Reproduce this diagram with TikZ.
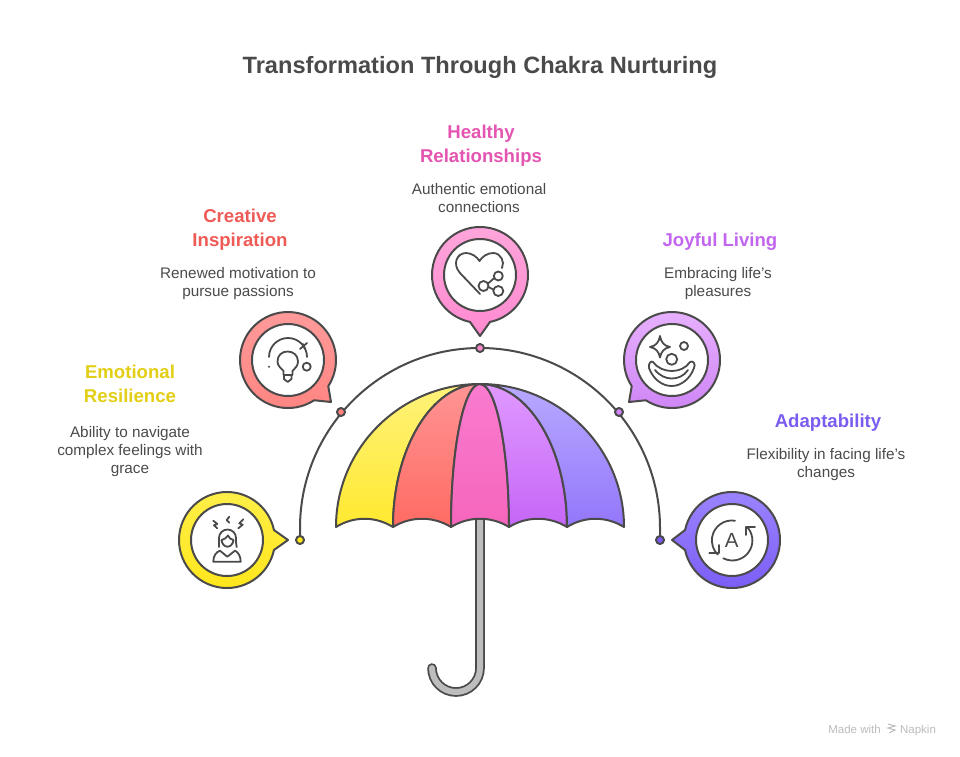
\documentclass[tikz,border=0pt]{standalone}
\usepackage{fontspec}
\setsansfont{Liberation Sans}
\usepackage{tikz}
\usetikzlibrary{positioning}
\usepackage{xcolor}

\definecolor{inkgray}{HTML}{4A4A4A}
\definecolor{handlegray}{HTML}{BDBDBD}
\definecolor{footgray}{HTML}{BBBBBB}
\definecolor{resilhead}{HTML}{E2CE14}
\definecolor{creathead}{HTML}{EE5A55}
\definecolor{relathead}{HTML}{E355B0}
\definecolor{joyhead}{HTML}{C266F0}
\definecolor{adapthead}{HTML}{7B5CF0}
\definecolor{yellowtop}{HTML}{FFF27A}
\definecolor{yellowbot}{HTML}{FFE930}
\definecolor{redtop}{HTML}{FF9494}
\definecolor{redbot}{HTML}{FF6B63}
\definecolor{pinktop}{HTML}{F97BD0}
\definecolor{pinkbot}{HTML}{F566BB}
\definecolor{purpletop}{HTML}{E099FF}
\definecolor{purplebot}{HTML}{C566F7}
\definecolor{bluetop}{HTML}{B8A9FF}
\definecolor{bluebot}{HTML}{9376FB}
\definecolor{ringyellowtop}{HTML}{FFEF4A}
\definecolor{ringyellowbot}{HTML}{FFE61A}
\definecolor{ringredtop}{HTML}{FF9C9C}
\definecolor{ringredbot}{HTML}{FF8480}
\definecolor{ringpinktop}{HTML}{FFA6DC}
\definecolor{ringpinkbot}{HTML}{FF8AD0}
\definecolor{ringpurpletop}{HTML}{E8B3FF}
\definecolor{ringpurplebot}{HTML}{CF85F5}
\definecolor{ringbluetop}{HTML}{9C85FF}
\definecolor{ringbluebot}{HTML}{7A5CF5}

\tikzset{
    outline/.style={draw=inkgray, line width=2pt, line join=round},
    ringhole/.style={outline, fill=white, circle, minimum size=72pt, inner sep=0pt},
    spot/.style={outline, circle, minimum size=8pt, inner sep=0pt},
    icon/.style={draw=inkgray, line width=1.8pt, line cap=round, line join=round},
    headline/.style={align=center, font=\fontsize{18.6}{24}\selectfont\bfseries},
    bodytext/.style={align=center, text=inkgray, font=\fontsize{15.3}{18}\selectfont},
    footer/.style={text=footgray, anchor=base, font=\fontsize{11.5}{13}\selectfont},
}

\begin{document}
\begin{tikzpicture}[x=1pt, y=-1pt]\sffamily

        \useasboundingbox (0,0) rectangle (960,756);

        \node[text=inkgray, font=\fontsize{23.6}{28}\selectfont\bfseries] (title) at (480,67) {Transformation Through Chakra Nurturing};

        % handle
        \draw[double=handlegray, double distance=6pt, draw=inkgray, line width=1.8pt, line cap=round]
            (480,512) -- (480,668) arc[start angle=0, end angle=180, radius=24] -- (432,668);

        % canopy
        \draw[outline, top color=yellowtop, bottom color=yellowbot]
            (336,527) arc[start angle=180, end angle=270, x radius=144, y radius=143]
            arc[start angle=270, end angle=180, x radius=87, y radius=143]
            .. controls (375,516) and (354,516) .. (336,527) -- cycle;
        \draw[outline, top color=redtop, bottom color=redbot]
            (393,527) arc[start angle=180, end angle=270, x radius=87, y radius=143]
            arc[start angle=270, end angle=180, x radius=29, y radius=143]
            .. controls (433,516) and (411,516) .. (393,527) -- cycle;
        \draw[outline, top color=pinktop, bottom color=pinkbot]
            (451,527) arc[start angle=180, end angle=270, x radius=29, y radius=143]
            arc[start angle=270, end angle=360, x radius=29, y radius=143]
            .. controls (491,516) and (469,516) .. (451,527) -- cycle;
        \draw[outline, top color=purpletop, bottom color=purplebot]
            (509,527) arc[start angle=0, end angle=-90, x radius=29, y radius=143]
            arc[start angle=270, end angle=360, x radius=87, y radius=143]
            .. controls (549,516) and (527,516) .. (509,527) -- cycle;
        \draw[outline, top color=bluetop, bottom color=bluebot]
            (567,527) arc[start angle=0, end angle=-90, x radius=87, y radius=143]
            arc[start angle=270, end angle=360, x radius=144, y radius=143]
            .. controls (606,516) and (585,516) .. (567,527) -- cycle;

        % big arc with its spots
        \coordinate (arcstart) at (300,540);
        \coordinate (arcend) at (660,540);
        \draw[draw=inkgray, line width=2pt] (arcstart) -- ++(0,-12)
            arc[start angle=180, end angle=360, radius=180] -- (arcend);

        \node[spot, fill=ringyellowbot] (spotA) at (arcstart) {};
        \node[spot, fill=ringredbot] (spotB) at (341,412) {};
        \node[spot, fill=ringpinkbot] (spotC) at (480,348) {};
        \node[spot, fill=ringpurplebot] (spotD) at (619,412) {};
        \node[spot, fill=ringbluebot] (spotE) at (arcend) {};

        % bubbles
        \draw[outline, top color=ringyellowtop, bottom color=ringyellowbot]
            (227,540) ++(12:48) arc[start angle=12, end angle=348, radius=48] -- (288,540) -- cycle;
        \draw[outline, top color=ringredtop, bottom color=ringredbot]
            (288,360) ++(57:48) arc[start angle=57, end angle=393, radius=48] -- (331,402) -- cycle;
        \draw[outline, top color=ringpinktop, bottom color=ringpinkbot]
            (480,275) ++(102:48) arc[start angle=102, end angle=438, radius=48] -- (480,336) -- cycle;
        \draw[outline, top color=ringpurpletop, bottom color=ringpurplebot]
            (672,360) ++(147:48) arc[start angle=147, end angle=483, radius=48] -- (629,402) -- cycle;
        \draw[outline, top color=ringbluetop, bottom color=ringbluebot]
            (732,540) ++(192:48) arc[start angle=192, end angle=528, radius=48] -- (672,540) -- cycle;

        \node[ringhole] (resilience) at (227,540) {};
        \node[ringhole] (creative) at (288,360) {};
        \node[ringhole] (healthy) at (480,275) {};
        \node[ringhole] (joyful) at (672,360) {};
        \node[ringhole] (adapt) at (732,540) {};

        % person
        \draw[icon] (219,547) .. controls (219,544) and (219,542) .. (219,538)
            .. controls (219,533) and (223,529.5) .. (227.5,529.5) .. controls (232,529.5) and (236,533) .. (236,538)
            .. controls (236,542) and (236,544) .. (236.7,547);
        \draw[icon] (221.5,540) .. controls (224,539.5) and (226.5,538) .. (228,535.5) .. controls (229,538) and (231,539.5) .. (233.5,540);
        \draw[icon] (221.5,540) .. controls (222,544) and (224.5,546.7) .. (227.5,546.7) .. controls (230.5,546.7) and (233,544) .. (233.5,540);
        \draw[icon] (213.3,561.7) .. controls (213.3,556) and (216,552) .. (220,550.7) -- (227.3,556.7) -- (235,550.7)
            .. controls (238,552) and (240.7,556) .. (240.7,561.7) -- cycle;
        \draw[icon] (213.3,520.7) -- (217.3,524) -- (214,525.3) -- (217.3,528.3);
        \draw[icon] (229.3,516.7) -- (226.7,520) -- (229.3,522.7);
        \draw[icon] (243.3,519.3) -- (239.3,523.3) -- (242.7,524.7) -- (238.3,528.3);

        % bulb
        \draw[icon] (269,357) arc[start angle=180, end angle=360, radius=19];
        \draw[icon] (300,349) -- (307,343);
        \draw[icon] (303,344) -- (305,349);
        \draw[icon] (283.5,375) -- (283.5,371) .. controls (281,368) and (277.5,366) .. (277.5,361.5)
            .. controls (277.5,355) and (282,351.5) .. (287.7,351.5) .. controls (293,351.5) and (298,355) .. (298,361.5)
            .. controls (298,366) and (295,368) .. (292.5,371) -- (292.5,375) -- cycle;
        \draw[icon] (284,375) -- (284,379) -- (287.7,382) -- (291.5,379) -- (291.5,375);
        \draw[icon] (306.7,366.7) circle (4);
        \fill[inkgray] (269,366.7) circle (1.2);

        % heart and links
        \draw[icon] (480,294) -- (460,273) .. controls (452,264) and (457,253) .. (466,253)
            .. controls (472,253) and (477,257) .. (479.5,261) .. controls (482,257) and (487,253) .. (493,253)
            .. controls (501,253) and (505,262) .. (502,268);
        \draw[icon] (498.3,276) circle (4.5);
        \draw[icon] (483.5,286) circle (5);
        \draw[icon] (498.3,291) circle (5);
        \draw[icon] (488,283.5) -- (494.3,278);
        \draw[icon] (488.5,287) -- (493.4,289.5);

        % clown
        \draw[icon] (660,336) .. controls (661,342) and (664,346) .. (670,347)
            .. controls (664,348) and (661,352) .. (660,357.5) .. controls (659,352) and (656,348) .. (650,347)
            .. controls (656,346) and (659,342) .. (660,336) -- cycle;
        \draw[icon] (684,346) circle (4);
        \draw[icon] (671.7,359.3) circle (5.5);
        \draw[icon] (653,362) .. controls (657,368) and (665,371) .. (671.7,371) .. controls (679,371) and (686,368) .. (690,362)
            .. controls (693,360) and (696,364) .. (694,368) .. controls (690,379) and (681,386) .. (671.7,386)
            .. controls (662,386) and (653,379) .. (649,368) .. controls (648,364) and (651,360) .. (653,362) -- cycle;
        \draw[icon] (655,370) .. controls (660,376) and (666,378.5) .. (671.7,378.5) .. controls (678,378.5) and (684,376) .. (688,370);

        % letter and turning arrows
        \node[text=inkgray, font=\fontsize{20.5}{21}\selectfont] (letter) at (731.7,540) {A};
        \draw[icon] (735,520.7) arc[start angle=-81, end angle=-225, radius=20];
        \draw[icon] (709.3,552.7) -- (719.3,552.7) -- (719.3,545);
        \draw[icon] (723.3,558.3) arc[start angle=117, end angle=-43, radius=20];
        \draw[icon] (755,526.7) -- (745.7,526.7) -- (745.7,535);

        % texts
        \node[headline, text=resilhead] (resilhd) at (130,384) {Emotional\\Resilience};
        \node[bodytext] (resiltx) at (130,452) {Ability to navigate\\complex feelings with\\grace};
        \node[headline, text=creathead] (creathd) at (240,230) {Creative\\Inspiration};
        \node[bodytext] (creattx) at (238,284) {Renewed motivation to\\pursue passions};
        \node[headline, text=relathead] (relathd) at (481,146) {Healthy\\Relationships};
        \node[bodytext] (relattx) at (479,198) {Authentic emotional\\connections};
        \node[headline, text=joyhead] (joyhd) at (720,242) {Joyful Living};
        \node[bodytext] (joytx) at (718,284) {Embracing life's\\pleasures};
        \node[headline, text=adapthead] (adapthd) at (828,423) {Adaptability};
        \node[bodytext] (adapttx) at (826,465) {Flexibility in facing life's\\changes};

        % footer
        \node[footer] (made) at (854.5,733) {Made with};
        \node[footer] (napkin) at (918,733) {Napkin};
        \draw[draw=footgray, line width=1pt] (888,724) -- (895,726) -- (888,728) -- (895,730) -- (889,733);

    \end{tikzpicture}
\end{document}
